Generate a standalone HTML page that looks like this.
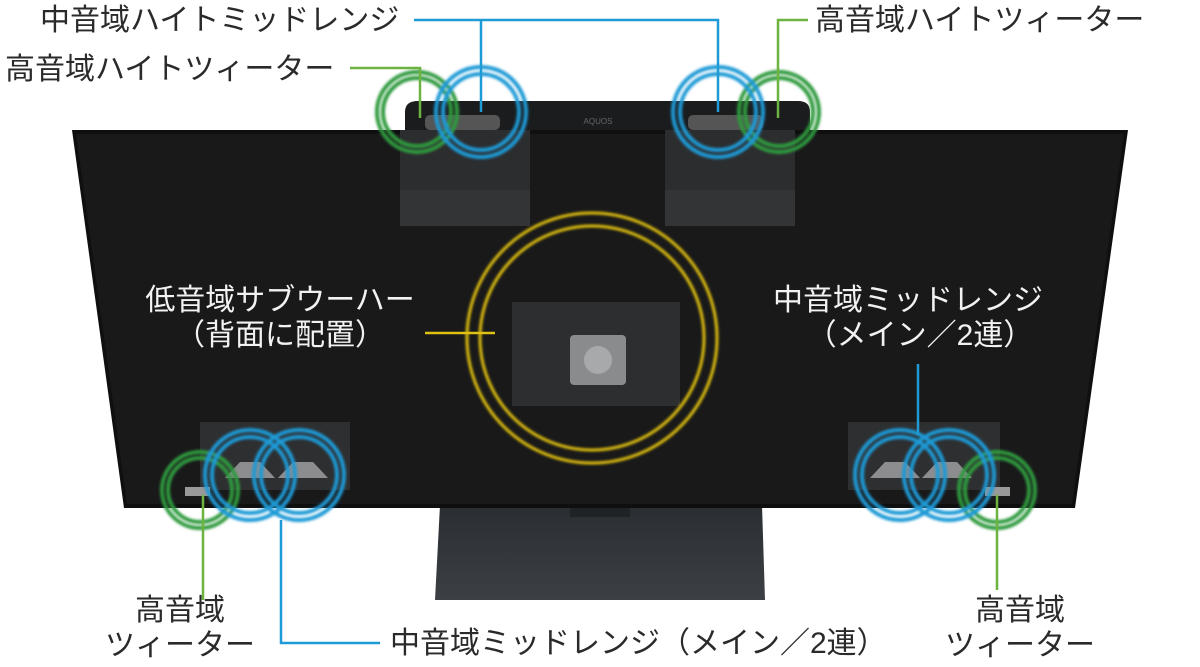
<!DOCTYPE html>
<html><head><meta charset="utf-8"><style>
html,body{margin:0;padding:0;background:#fff;width:1200px;height:667px;overflow:hidden}
text{font-family:"Liberation Sans","Noto Sans CJK JP",sans-serif;font-size:30px;fill:#2a2a2a}
text.w{fill:#f2f2f2}
</style></head><body>
<svg width="1200" height="667" viewBox="0 0 1200 667">
<defs>
<linearGradient id="st" x1="0" y1="0" x2="0" y2="1"><stop offset="0" stop-color="#2a2d31"/><stop offset="1" stop-color="#3c4045"/></linearGradient>
<filter id="gl"><feGaussianBlur stdDeviation="1.2"/></filter>
</defs>
<path d="M440 505 L762 505 L765 600 L435 600 Z" fill="url(#st)"/>
<rect x="570" y="505" width="60" height="12" fill="#202326"/>
<path d="M405 130 L405 112 Q405 101 418 101 L798 101 Q810 101 810 112 L810 130 Z" fill="#1b1c1e"/>
<text x="598" y="124" style="font-size:8px;fill:#666" text-anchor="middle">AQUOS</text>
<path d="M72 130 L1128 130 L1075 508 L124 508 Z" fill="#0f0f10"/>
<path d="M76 134 L1124 134 L1072 504 L127 504 Z" fill="#19191a"/>
<rect x="400" y="130" width="130" height="96" fill="#2c2d2f"/>
<rect x="400" y="190" width="130" height="36" fill="#333436"/>
<rect x="665" y="130" width="130" height="96" fill="#2c2d2f"/>
<rect x="665" y="190" width="130" height="36" fill="#333436"/>
<rect x="425" y="115" width="75" height="15" rx="5" fill="#555"/>
<rect x="688" y="115" width="75" height="15" rx="5" fill="#555"/>
<rect x="512" y="302" width="168" height="104" fill="#2d2e30"/>
<rect x="570" y="335" width="56" height="50" rx="4" fill="#8a8b8d"/>
<circle cx="598" cy="360" r="14" fill="#a8a9ab"/>
<rect x="200" y="422" width="150" height="68" fill="#2e2f31"/>
<rect x="848" y="422" width="152" height="68" fill="#2e2f31"/>
<path d="M225 478 L240 462 L260 462 L275 478 Z M278 478 L293 462 L313 462 L328 478 Z" fill="#8d8d8f"/>
<path d="M870 478 L885 462 L905 462 L920 478 Z M922 478 L937 462 L957 462 L972 478 Z" fill="#8d8d8f"/>
<rect x="185" y="487" width="25" height="9" fill="#999"/>
<rect x="985" y="487" width="25" height="9" fill="#999"/>
<g fill="none" filter="url(#gl)">
<g stroke="#e0c010" stroke-width="3"><circle cx="592" cy="338" r="125"/><circle cx="592" cy="338" r="112"/></g>
<g stroke="#2e9a3e" stroke-width="4"><circle cx="417" cy="112" r="40"/><circle cx="417" cy="112" r="34"/>
<circle cx="779" cy="112" r="40"/><circle cx="779" cy="112" r="34"/>
<circle cx="200" cy="490" r="38"/><circle cx="200" cy="490" r="32"/>
<circle cx="997" cy="490" r="38"/><circle cx="997" cy="490" r="32"/></g>
<g stroke="#1e9ad6" stroke-width="4"><circle cx="481" cy="112" r="45"/><circle cx="481" cy="112" r="38"/>
<circle cx="718" cy="112" r="45"/><circle cx="718" cy="112" r="38"/>
<circle cx="250" cy="475" r="45"/><circle cx="250" cy="475" r="38"/>
<circle cx="299" cy="475" r="45"/><circle cx="299" cy="475" r="38"/>
<circle cx="900" cy="475" r="45"/><circle cx="900" cy="475" r="38"/>
<circle cx="949" cy="475" r="45"/><circle cx="949" cy="475" r="38"/></g>
</g>
<g fill="none" stroke-width="2.5">
<path d="M414 20 L718 20 L718 112 M481 20 L481 112" stroke="#1e9ad6"/>
<path d="M350 68 L420 68 L420 118" stroke="#6db33f"/>
<path d="M808 20 L778 20 L778 118" stroke="#6db33f"/>
<path d="M425 333 L495 333" stroke="#e0c010"/>
<path d="M918 364 L918 435" stroke="#1e9ad6"/>
<path d="M203 495 L203 600" stroke="#6db33f"/>
<path d="M997 495 L997 590" stroke="#6db33f"/>
<path d="M281 520 L281 643 L380 643" stroke="#1e9ad6"/>
</g>
<text x="40" y="30">中音域ハイトミッドレンジ</text>
<text x="5" y="79">高音域ハイトツィーター</text>
<text x="815" y="30">高音域ハイトツィーター</text>
<text class="w" x="280" y="310" text-anchor="middle">低音域サブウーハー</text>
<text class="w" x="280" y="345" text-anchor="middle">（背面に配置）</text>
<text class="w" x="908" y="310" text-anchor="middle">中音域ミッドレンジ</text>
<text class="w" x="920" y="345" text-anchor="middle">（メイン／2連）</text>
<text x="180" y="620" text-anchor="middle">高音域</text>
<text x="180" y="655" text-anchor="middle">ツィーター</text>
<text x="1020" y="620" text-anchor="middle">高音域</text>
<text x="1020" y="655" text-anchor="middle">ツィーター</text>
<text x="390" y="653">中音域ミッドレンジ（メイン／2連）</text>
</svg>
</body></html>
